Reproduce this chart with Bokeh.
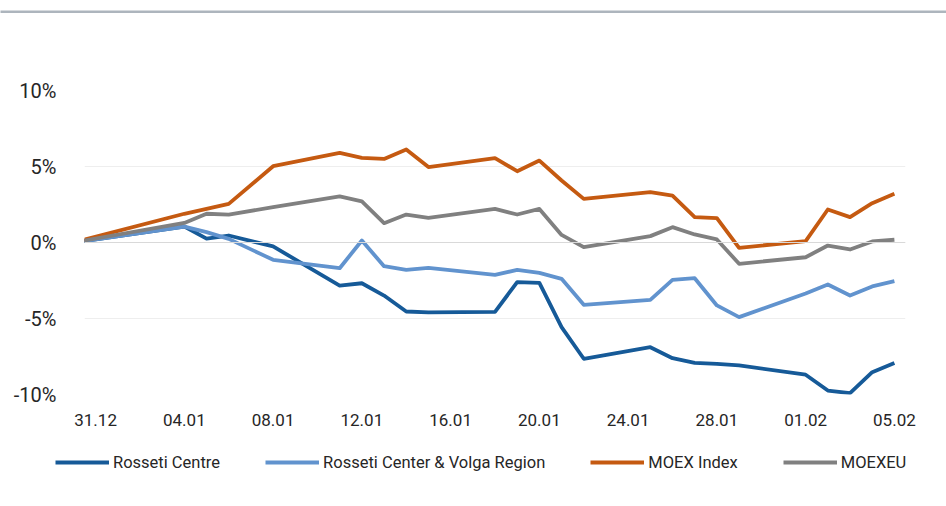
from bokeh.plotting import figure
from bokeh.models import Range1d, FixedTicker, Legend, LegendItem, Span
from bokeh.layouts import column
from bokeh.embed import file_html
from bokeh.resources import INLINE

# ---- data (percent change vs 30.12) ----
# day offset relative to 31.12
days = [-1, 4, 5, 6, 8, 11, 12, 13, 14, 15, 18, 19, 20, 21, 22,
        25, 26, 27, 28, 29, 32, 33, 34, 35, 36]
rosseti_centre = [0, 1.05, 0.26, 0.46, -0.26, -2.83, -2.68, -3.49, -4.54, -4.6,
                  -4.56, -2.61, -2.65, -5.57, -7.65, -6.89, -7.61, -7.92, -7.98,
                  -8.09, -8.7, -9.74, -9.91, -8.53, -7.92]
rosseti_volga = [0, 1.05, 0.68, 0.24, -1.14, -1.69, 0.13, -1.56, -1.8, -1.67,
                 -2.13, -1.8, -2.0, -2.39, -4.1, -3.77, -2.46, -2.35, -4.14,
                 -4.91, -3.35, -2.76, -3.49, -2.89, -2.54]
moex_index = [0, 1.89, 2.21, 2.54, 5.02, 5.9, 5.57, 5.5, 6.12, 4.96, 5.55, 4.69,
              5.39, 4.08, 2.87, 3.31, 3.09, 1.67, 1.6, -0.35, 0.09, 2.17, 1.67,
              2.59, 3.2]
moexeu = [0, 1.29, 1.89, 1.84, 2.32, 3.03, 2.7, 1.27, 1.84, 1.62, 2.21, 1.84,
          2.21, 0.5, -0.31, 0.42, 1.01, 0.53, 0.2, -1.4, -0.97, -0.2, -0.46,
          0.07, 0.18]

series_names = ["Rosseti Centre", "Rosseti Center & Volga Region", "MOEX Index", "MOEXEU"]
series_colors = ["#165A98", "#6193CE", "#C55A11", "#808080"]

x_tick_pos = [0, 4, 8, 12, 16, 20, 24, 28, 32, 36]
x_tick_labels = ["31.12", "04.01", "08.01", "12.01", "16.01", "20.01",
                 "24.01", "28.01", "01.02", "05.02"]
y_tick_pos = [-10, -5, 0, 5, 10]
y_tick_labels = ["-10%", "-5%", "0%", "5%", "10%"]

FONT = "Roboto"
TXT = "#262626"
W = 946

# --- top rule (title separator) ---
rule = figure(width=W, height=13, output_backend="svg", toolbar_location=None,
              x_axis_type=None, y_axis_type=None, frame_align=False,
              min_border_left=0, min_border_right=0, min_border_top=10, min_border_bottom=0)
rule.outline_line_color = None
rule.grid.visible = False
rule.background_fill_color = "#ADB5BD"
rule.border_fill_color = "white"

# --- main chart ---
p = figure(width=W, height=430, output_backend="svg", toolbar_location=None,
           x_range=Range1d(-0.5, 36.5), y_range=Range1d(-10, 10), frame_align=False,
           min_border_left=84, min_border_right=41, min_border_top=77,
           min_border_bottom=49)
p.outline_line_color = None
p.background_fill_color = "white"
p.border_fill_color = "white"

zero = Span(location=0, dimension="width", line_color="#D9D9D9", line_width=1)
p.add_layout(zero)

for vals, col in zip([rosseti_centre, rosseti_volga, moex_index, moexeu], series_colors):
    p.line(days, vals, line_color=col, line_width=3.8, line_join="round")

p.xaxis.ticker = FixedTicker(ticks=x_tick_pos)
p.xaxis.major_label_overrides = {t: l for t, l in zip(x_tick_pos, x_tick_labels)}
p.yaxis.ticker = FixedTicker(ticks=y_tick_pos)
p.yaxis.major_label_overrides = {t: l for t, l in zip(y_tick_pos, y_tick_labels)}
for ax in (p.xaxis, p.yaxis):
    ax.axis_line_color = None
    ax.major_tick_line_color = None
    ax.minor_tick_line_color = None
    ax.major_label_text_font = FONT
    ax.major_label_text_color = TXT
p.xaxis.major_label_text_font_size = "17px"
p.yaxis.major_label_text_font_size = "20px"
p.yaxis.major_label_standoff = 22
p.xaxis.major_label_standoff = 13

p.xgrid.grid_line_color = None
p.ygrid.ticker = FixedTicker(ticks=y_tick_pos)
p.ygrid.grid_line_color = "#EEEEEE"
p.ygrid.grid_line_width = 1

# --- legend strip ---
leg = figure(width=W, height=40, output_backend="svg", toolbar_location=None,
             x_axis_type=None, y_axis_type=None, frame_align=False,
             x_range=Range1d(0, 1), y_range=Range1d(0, 1),
             min_border_left=0, min_border_right=0, min_border_top=0, min_border_bottom=0)
leg.outline_line_color = None
leg.grid.visible = False
leg_items = []
for name, col in zip(series_names, series_colors):
    # legend-key renderers only (a single off-range point, nothing drawn in the strip)
    r = leg.line(x=[-5.0], y=[-5.0], line_color=col, line_width=3.8)
    leg_items.append(LegendItem(label=name, renderers=[r]))
legend = Legend(items=leg_items, orientation="horizontal", location=(55, 11),
                padding=0, margin=0, spacing=45, glyph_width=54, glyph_height=20,
                label_standoff=4, label_height=20,
                label_text_font=FONT, label_text_font_size="16.5px",
                label_text_color=TXT, border_line_color=None,
                background_fill_alpha=0)
leg.add_layout(legend, "center")

layout = column(rule, p, leg, spacing=0)
open("out.html", "w").write(file_html(layout, INLINE))
